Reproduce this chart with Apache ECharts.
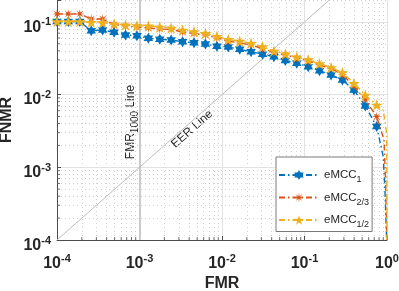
<!DOCTYPE html>
<html>
<head>
<meta charset="utf-8">
<script src="https://cdn.jsdelivr.net/npm/echarts@6/dist/echarts.min.js"></script>
<style>
html,body{margin:0;padding:0;background:#fff;}
#chart{width:399px;height:291px;}
</style>
</head>
<body>
<div id="chart"></div>
<script>
// ---- data ----
const seriesNames = ['eMCC_1', 'eMCC_2/3', 'eMCC_1/2'];
const legendSubs = ['1', '2/3', '1/2'];
const fmrPoints = [1.0e-4, 1.37e-4, 1.89e-4, 2.60e-4, 3.58e-4, 4.92e-4, 6.77e-4, 9.31e-4, 1.28e-3, 1.76e-3,
  2.42e-3, 3.33e-3, 4.58e-3, 6.30e-3, 8.67e-3, 1.19e-2, 1.64e-2, 2.25e-2, 3.10e-2, 4.26e-2,
  5.86e-2, 8.06e-2, 0.111, 0.152, 0.210, 0.288, 0.397, 0.546, 0.750];
const fnmrE1 = [0.101, 0.101, 0.101, 0.0757, 0.0774, 0.0719, 0.0661, 0.0646, 0.0595, 0.0577,
  0.0564, 0.0534, 0.0518, 0.0497, 0.0462, 0.0452, 0.0420, 0.0389, 0.0360, 0.0332,
  0.0294, 0.0270, 0.0242, 0.0213, 0.0186, 0.0159, 0.0116, 0.00697, 0.00364];
const fnmrE23 = [0.1285, 0.1285, 0.1285, 0.1096, 0.1096, 0.0920, 0.0879, 0.0851, 0.0824, 0.0798,
  0.0786, 0.0726, 0.0692, 0.0661, 0.0601, 0.0546, 0.0513, 0.0481, 0.0431, 0.0379,
  0.0351, 0.0319, 0.0290, 0.0255, 0.0229, 0.0189, 0.0131, 0.00843, 0.00497];
const fnmrE12 = [0.101, 0.101, 0.101, 0.0986, 0.0975, 0.0935, 0.0906, 0.0887, 0.0879, 0.0851,
  0.0824, 0.0774, 0.0733, 0.0697, 0.0634, 0.0573, 0.0543, 0.0508, 0.0456, 0.0398,
  0.0362, 0.0329, 0.0302, 0.0266, 0.0236, 0.0201, 0.0143, 0.00987, 0.00719];
// tails (curve continues to the bottom without markers)
const tailFmrE1 = [0.90, 0.944, 0.99];
const tailFnmrE1 = [0.0014, 0.000487, 0.0001];
const tailFmrE23 = [0.92, 0.96, 0.993];
const tailFnmrE23 = [0.00238, 0.00067, 0.0001];
const tailFmrE12 = [0.90, 0.989, 1.0];
const tailFnmrE12 = [0.00614, 0.00296, 0.0001];
// reference lines
const eerLine = [[1e-4, 1e-4], [1, 1]];
const fmr1000 = 1e-3;
// axis ranges & grid positions
const xMin = 1e-4, xMax = 1;
const yMin = 1e-4, yMax = 0.2;
const xMajor = [1e-4, 1e-3, 1e-2, 1e-1, 1];
const yMajor = [1e-4, 1e-3, 1e-2, 1e-1];
const xMinor = [2e-4,3e-4,4e-4,5e-4,6e-4,7e-4,8e-4,9e-4, 2e-3,3e-3,4e-3,5e-3,6e-3,7e-3,8e-3,9e-3,
  2e-2,3e-2,4e-2,5e-2,6e-2,7e-2,8e-2,9e-2, 0.2,0.3,0.4,0.5,0.6,0.7,0.8,0.9];
const yMinor = [2e-4,3e-4,4e-4,5e-4,6e-4,7e-4,8e-4,9e-4, 2e-3,3e-3,4e-3,5e-3,6e-3,7e-3,8e-3,9e-3,
  2e-2,3e-2,4e-2,5e-2,6e-2,7e-2,8e-2,9e-2, 0.2];

// ---- styling ----
const colors = ['#0072BD', '#D95319', '#EDB120'];
const hexagram = 'path://M0 -100 L28.9 -50 L86.6 -50 L57.7 0 L86.6 50 L28.9 50 L0 100 L-28.9 50 L-86.6 50 L-57.7 0 L-86.6 -50 L-28.9 -50 Z';
const asterisk = 'path://M0 -100 L11.5 -27.7 L70.7 -70.7 L27.7 -11.5 L100 0 L27.7 11.5 L70.7 70.7 L11.5 27.7 L0 100 L-11.5 27.7 L-70.7 70.7 L-27.7 11.5 L-100 0 L-27.7 -11.5 L-70.7 -70.7 L-11.5 -27.7 Z';
const pentagram = 'path://M0 -100 L22.5 -30.9 L95.1 -30.9 L36.3 11.8 L58.8 80.9 L0 38.2 L-58.8 80.9 L-36.3 11.8 L-95.1 -30.9 L-22.5 -30.9 Z';
const symbols = [hexagram, asterisk, pentagram];
const symbolSizes = [11, 10, 12];
const FONT = 'Liberation Sans, Arial, Helvetica, sans-serif';
const TXT = '#262626';
const AXC = '#4d4d4d';

function buildData(xs, ys, tx, ty) {
  const d = xs.map((x, i) => [x, ys[i]]);
  tx.forEach((x, i) => d.push({ value: [x, ty[i]], symbol: 'none' }));
  return d;
}
const allData = [
  buildData(fmrPoints, fnmrE1, tailFmrE1, tailFnmrE1),
  buildData(fmrPoints, fnmrE23, tailFmrE23, tailFnmrE23),
  buildData(fmrPoints, fnmrE12, tailFmrE12, tailFnmrE12)
];

function powLabel(v) {
  const l = Math.log10(v);
  const e = Math.round(l);
  if (Math.abs(l - e) > 1e-6) return '';
  return '{b|10}{s|' + e + '}';
}
const labelRich = {
  b: { fontSize: 16, fontWeight: 'bold', fontFamily: FONT, color: TXT },
  s: { fontSize: 11, fontWeight: 'bold', fontFamily: FONT, color: TXT, padding: [0, 0, 10, 0] }
};

function vLines(vals) { return vals.map(v => ({ coords: [[v, yMin], [v, yMax]] })); }
function hLines(vals) { return vals.map(v => ({ coords: [[xMin, v], [xMax, v]] })); }

const chart = echarts.init(document.getElementById('chart'), null, { renderer: 'canvas' });

const minorGrid = {
  type: 'lines', coordinateSystem: 'cartesian2d', silent: true, z: 0, polyline: false,
  data: vLines(xMinor).concat(hLines(yMinor)),
  lineStyle: { color: '#d0d0d0', type: [1, 3], width: 1, opacity: 1 },
  animation: false
};
const majorGrid = {
  type: 'lines', coordinateSystem: 'cartesian2d', silent: true, z: 0, polyline: false,
  data: vLines(xMajor).concat(hLines(yMajor)),
  lineStyle: { color: '#e2e2e2', type: 'solid', width: 1, opacity: 1 },
  animation: false
};
const fmrLine = {
  type: 'lines', coordinateSystem: 'cartesian2d', silent: true, z: 1, polyline: false,
  data: vLines([fmr1000]),
  lineStyle: { color: '#cacaca', type: 'solid', width: 2, opacity: 1 },
  animation: false
};
const eerSeries = {
  type: 'line', data: eerLine, symbol: 'none', silent: true, z: 1,
  lineStyle: { color: '#bdbdbd', width: 1 }, clip: true
};
// minor ticks (inside) on the bottom and left axes
const xMinorTicks = {
  type: 'scatter', silent: true, z: 2, clip: false,
  data: xMinor.map(v => [v, yMin]),
  symbol: 'rect', symbolSize: [1, 3], symbolOffset: [0, -1.5],
  itemStyle: { color: AXC }
};
const yMinorTicks = {
  type: 'scatter', silent: true, z: 2, clip: false,
  data: yMinor.map(v => [xMin, v]),
  symbol: 'rect', symbolSize: [3, 1], symbolOffset: [1.5, 0],
  itemStyle: { color: AXC }
};

const curveSeries = seriesNames.map((n, i) => ({
  name: n, type: 'line', data: allData[i], z: 3 + i,
  symbol: symbols[i], symbolSize: symbolSizes[i], symbolKeepAspect: true,
  showAllSymbol: true, clip: true,
  lineStyle: { color: colors[i], width: 1.4, type: [6, 3, 1.5, 3] },
  itemStyle: { color: colors[i], borderWidth: 0 },
  emphasis: { disabled: true }
}));

chart.setOption({
  animation: false,
  backgroundColor: '#fff',
  grid: { left: 57, right: 12, top: 0, bottom: 51, outerBoundsMode: 'none', containLabel: false },
  xAxis: {
    type: 'log', logBase: 10, min: xMin, max: xMax,
    name: 'FMR', nameLocation: 'middle', nameGap: 36, nameMoveOverlap: false,
    nameTextStyle: { fontSize: 16, fontWeight: 'bold', fontFamily: FONT, color: TXT },
    axisLine: { show: true, lineStyle: { color: AXC, width: 1 } },
    axisTick: { show: true, inside: true, length: 4, lineStyle: { color: AXC } },
    splitLine: { show: false },
    axisLabel: { formatter: powLabel, rich: labelRich, margin: 13, showMinLabel: true, showMaxLabel: true }
  },
  yAxis: {
    type: 'log', logBase: 10, min: yMin, max: yMax,
    name: 'FNMR', nameLocation: 'middle', nameGap: 42, nameRotate: 90, nameMoveOverlap: false,
    nameTextStyle: { fontSize: 16, fontWeight: 'bold', fontFamily: FONT, color: TXT },
    axisLine: { show: true, lineStyle: { color: AXC, width: 1 } },
    axisTick: { show: true, inside: true, length: 4, lineStyle: { color: AXC } },
    splitLine: { show: false },
    axisLabel: { formatter: powLabel, rich: labelRich, margin: 6, padding: [11, 0, 0, 0], showMinLabel: true, showMaxLabel: true }
  },
  legend: {
    data: seriesNames,
    orient: 'vertical', left: 276, top: 157,
    backgroundColor: '#fff', borderColor: '#7a7a7a', borderWidth: 1, borderRadius: 0,
    padding: [12, 3, 2, 2],
    itemWidth: 40, itemHeight: 12, itemGap: 7,
    formatter: name => 'eMCC{s|' + legendSubs[seriesNames.indexOf(name)] + '}',
    textStyle: {
      fontSize: 11.5, fontFamily: FONT, color: TXT,
      rich: { s: { fontSize: 9, fontFamily: FONT, color: TXT, padding: [10, 0, 0, 0] } }
    }
  },
  graphic: [
    {
      type: 'text', x: 131, y: 122, rotation: Math.PI / 2, silent: true,
      style: {
        text: 'FMR{s|1000} Line', align: 'center', verticalAlign: 'middle',
        font: '12px ' + FONT, fill: TXT,
        rich: { s: { fontSize: 10, fontFamily: FONT, fill: TXT, padding: [9, 0, 0, 0] } }
      }
    },
    {
      type: 'text', x: 192, y: 129, rotation: 41.3 * Math.PI / 180, silent: true,
      style: { text: 'EER Line', align: 'center', verticalAlign: 'middle', font: '12px ' + FONT, fill: TXT }
    }
  ],
  series: [minorGrid, majorGrid, fmrLine, eerSeries, xMinorTicks, yMinorTicks].concat(curveSeries)
});
</script>
</body>
</html>
